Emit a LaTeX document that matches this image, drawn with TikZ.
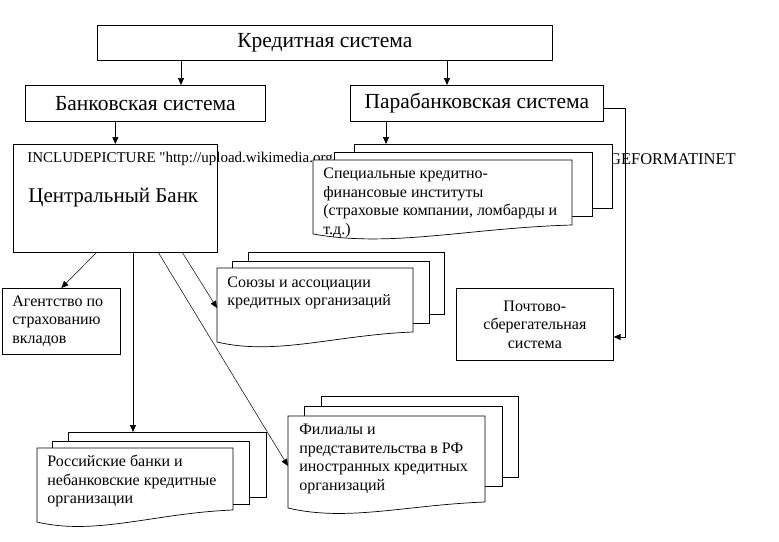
\documentclass[tikz,border=0pt]{standalone}
\usepackage{fontspec}
\setmainfont{Liberation Serif}
\usetikzlibrary{arrows.meta}

\tikzset{
  box/.style={draw, fill=white, inner sep=0pt, anchor=north west},
  sheet/.style={draw, fill=white, inner sep=0pt, anchor=north west},
  arr/.style={-{Triangle[length=7pt,width=6pt]}},
  big/.style={font=\fontsize{21.5}{24}\selectfont},
  txt/.style={font=\fontsize{16}{18.5}\selectfont, align=left, inner sep=0pt, anchor=west},
}

\begin{document}
\begin{tikzpicture}[x=1pt, y=-1pt, line width=0.7pt]
  \useasboundingbox[fill=white] (0,0) rectangle (779,541);

  % Top levels
  \node[box, big, minimum width=455pt, minimum height=35pt] (kred) at (97,25) {Кредитная система};
  \node[box, big, minimum width=240pt, minimum height=36pt] (bank) at (25,85) {Банковская система};
  \node[box, big, minimum width=253pt, minimum height=36pt] (para) at (350,85) {Парабанковская система};

  \coordinate (k1) at (181,0);
  \coordinate (k2) at (447,0);
  \draw[arr] (kred.south -| k1) -- (bank.north -| k1);
  \draw[arr] (kred.south -| k2) -- (para.north -| k2);

  % Central bank
  \node[box, minimum width=204pt, minimum height=108pt] (cb) at (13,144) {};
  \draw[arr] (bank.south -| cb.north) -- (cb.north);
  \node[txt, font=\fontsize{15}{18}\selectfont\addfontfeatures{Ligatures=TeXOff}] (inclA) at (27,159) {INCLUDEPICTURE "http://upload.wikimedia.org/};
  \node[txt, anchor=east, font=\fontsize{16.5}{18}\selectfont] (inclB) at (736,159) {MERGEFORMATINET};
  \node[txt, font=\fontsize{21}{24}\selectfont] (cbname) at (28,198) {Центральный Банк};

  % Post system
  \node[box, minimum width=157pt, minimum height=72pt, font=\fontsize{16}{18.5}\selectfont, align=center] (post) at (456,288)
    {Почтово-\\сберегательная\\система};
  \coordinate (turn) at (625,337);
  \draw[arr] ([yshift=-5pt]para.east) -| (turn) -- (turn -| post.east);

  % Special institutions
  \node[sheet, minimum width=258pt, minimum height=64pt] (specC) at (354,144) {};
  \node[sheet, minimum width=258pt, minimum height=64pt] (specB) at (334,152) {};
  \draw[fill=white] (313,160) -- (572,160) -- (572,225) .. controls (468,228) and (391,248) .. (313,234) -- cycle;
  \node[txt] (spec) at (323,203)
    {Специальные кредитно-\\финансовые институты\\(страховые компании, ломбарды и\\т.д.)};
  \coordinate (p1) at (386,0);
  \draw[arr] (para.south -| p1) -- (specC.north -| p1);

  % Agency
  \node[box, minimum width=118pt, minimum height=66pt] (agency) at (2,288) {};
  \node[txt] (agencyT) at (12,321) {Агентство по\\страхованию\\вкладов};

  % Unions
  \node[sheet, minimum width=196pt, minimum height=62pt] (unionC) at (248,252) {};
  \node[sheet, minimum width=197pt, minimum height=62pt] (unionB) at (232,261) {};
  \draw[fill=white] (217,268) -- (413,268) -- (413,332) .. controls (335,335) and (276,356) .. (217,342) -- cycle;
  \node[txt] (union) at (227,293) {Союзы и ассоциации\\кредитных организаций};

  % Russian banks
  \node[sheet, minimum width=198pt, minimum height=65pt] (rusC) at (68,432) {};
  \node[sheet, minimum width=197pt, minimum height=63pt] (rusB) at (52,441) {};
  \draw[fill=white] (37,448) -- (233,448) -- (233,510) .. controls (155,513) and (96,536) .. (37,522) -- cycle;
  \node[txt] (rus) at (47,481) {Российские банки и\\небанковские кредитные\\организации};

  % Branches
  \node[sheet, minimum width=197pt, minimum height=81pt] (filC) at (321,396) {};
  \node[sheet, minimum width=198pt, minimum height=80pt] (filB) at (304,406) {};
  \draw[fill=white] (288,416) -- (485,416) -- (485,502) .. controls (406,505) and (347,522) .. (288,508) -- cycle;
  \node[txt] (fil) at (299,459) {Филиалы и\\представительства в РФ\\иностранных кредитных\\организаций};

  % Links from the central bank
  \coordinate (cb1) at (97,252);
  \coordinate (cb2) at (133,252);
  \coordinate (cb3) at (158,252);
  \coordinate (cb4) at (182,252);
  \coordinate (filL) at (288,466);
  \coordinate (unionL) at (217,308);
  \draw[arr, line width=0.5pt] (cb1) -- (agency.north);
  \draw[arr] (cb2) -- (cb2 |- rusC.north);
  \draw[arr, line width=0.5pt] (cb3) -- (filL);
  \draw[arr, line width=0.5pt] (cb4) -- (unionL);
\end{tikzpicture}
\end{document}
